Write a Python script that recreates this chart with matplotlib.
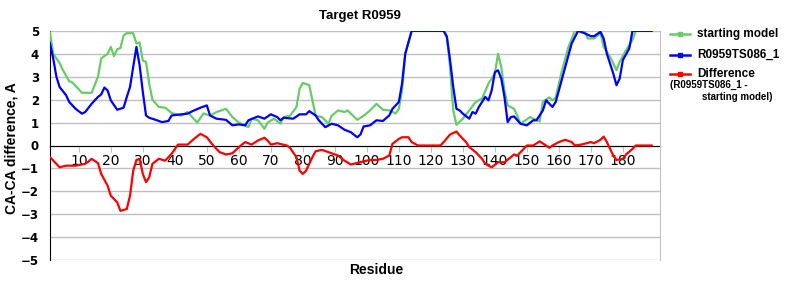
import matplotlib
matplotlib.use("Agg")
import matplotlib.pyplot as plt
from matplotlib.lines import Line2D

# residue / value pairs
green_res = [1, 2, 4, 5, 7, 8, 11, 14, 16, 17, 19, 20, 21, 22, 23, 24, 25, 27, 28, 29,
             30, 31, 32, 33, 35, 37, 39, 42, 44, 47, 49, 51, 53, 56, 58, 60, 63, 64, 66, 68,
             69, 71, 73, 74, 76, 78, 79, 80, 82, 83, 84, 86, 88, 89, 91, 93, 94, 97, 99, 101,
             103, 105, 107, 109, 110, 111, 112, 114, 124, 125, 126, 127, 128, 130, 132, 134, 136, 138, 140, 141,
             142, 143, 144, 146, 147, 148, 151, 152, 154, 155, 157, 158, 159, 161, 163, 165, 168, 169, 171, 173,
             174, 176, 178, 179, 181, 183, 184, 189]
green_val = [4.93, 4.0, 3.6, 3.3, 2.8, 2.75, 2.3, 2.3, 3.0, 3.8, 4.0, 4.3, 3.9, 4.2, 4.25, 4.8, 4.9, 4.9, 4.45, 4.5,
             3.7, 3.65, 2.7, 2.0, 1.68, 1.65, 1.42, 1.3, 1.46, 1.0, 1.4, 1.3, 1.46, 1.6, 1.24, 1.0, 0.8, 1.17, 1.1, 0.73,
             1.0, 1.17, 0.95, 1.24, 1.3, 1.68, 2.48, 2.73, 2.63, 1.97, 1.3, 1.24, 0.95, 1.3, 1.53, 1.46, 1.53, 1.12, 1.3, 1.53,
             1.82, 1.56, 1.53, 1.4, 1.6, 2.4, 4.0, 5.0, 5.0, 4.75, 3.4, 1.53, 0.9, 1.17, 1.53, 1.9, 2.05, 2.7, 3.14, 4.0,
             3.43, 2.4, 1.75, 1.6, 1.3, 0.95, 1.24, 1.17, 1.05, 1.9, 2.1, 1.97, 2.1, 3.28, 4.3, 5.0, 5.0, 4.67, 4.67, 4.9,
             4.3, 3.87, 3.28, 3.65, 4.16, 4.6, 5.0, 5.0]

blue_res = [1, 2, 3, 4, 6, 7, 9, 11, 12, 14, 16, 17, 18, 19, 20, 22, 24, 25, 26, 27,
            28, 29, 30, 31, 32, 34, 36, 38, 39, 42, 44, 46, 48, 50, 51, 53, 56, 58, 60, 62,
            63, 66, 68, 70, 72, 73, 74, 77, 79, 81, 82, 84, 85, 87, 89, 91, 93, 95, 97, 98,
            99, 101, 103, 105, 107, 108, 110, 111, 112, 114, 124, 125, 126, 127, 128, 129, 130, 132, 133, 134,
            135, 137, 138, 139, 140, 141, 142, 143, 144, 145, 146, 148, 150, 152, 153, 155, 156, 158, 159, 160,
            162, 164, 166, 168, 170, 171, 173, 174, 175, 177, 178, 179, 180, 182, 183, 189]
blue_val = [4.45, 3.8, 3.0, 2.55, 2.2, 1.9, 1.6, 1.39, 1.46, 1.82, 2.12, 2.23, 2.53, 2.4, 1.97, 1.56, 1.65, 2.12, 2.55, 3.43,
            4.3, 3.5, 2.34, 1.31, 1.21, 1.12, 1.02, 1.07, 1.31, 1.36, 1.39, 1.53, 1.65, 1.75, 1.31, 1.17, 1.12, 0.88, 0.92, 0.88,
            1.1, 1.27, 1.17, 1.36, 1.24, 1.1, 1.21, 1.17, 1.36, 1.36, 1.5, 1.31, 1.1, 0.8, 0.95, 0.88, 0.69, 0.58, 0.36, 0.48,
            0.83, 0.88, 1.1, 1.07, 1.31, 1.6, 1.9, 2.7, 4.0, 5.0, 5.0, 4.75, 3.73, 2.55, 1.6, 1.53, 1.39, 1.17, 1.46, 1.39,
            1.68, 2.12, 1.97, 2.4, 3.2, 3.28, 2.92, 2.12, 1.02, 1.24, 1.27, 0.95, 0.88, 1.1, 1.1, 1.53, 1.97, 1.68, 1.9, 2.4,
            3.43, 4.45, 5.0, 4.9, 4.77, 4.77, 4.96, 4.67, 4.0, 3.14, 2.63, 2.92, 3.73, 4.23, 5.0, 5.0]

diff_res = [1, 3, 4, 6, 9, 12, 13, 14, 16, 17, 19, 20, 22, 23, 25, 26, 27, 28, 29, 30,
            31, 32, 33, 35, 37, 39, 41, 44, 46, 48, 50, 52, 54, 56, 58, 60, 62, 64, 66, 68,
            69, 70, 72, 75, 76, 78, 79, 80, 81, 83, 84, 86, 88, 91, 93, 95, 97, 99, 101, 103,
            105, 107, 108, 110, 111, 113, 114, 116, 123, 124, 126, 128, 129, 131, 132, 134, 136, 137, 139, 141,
            143, 145, 146, 147, 149, 150, 152, 154, 156, 157, 158, 160, 162, 164, 165, 167, 170, 171, 173, 174,
            175, 177, 178, 180, 181, 183, 184, 189]
diff_val = [-0.51, -0.8, -0.95, -0.88, -0.88, -0.8, -0.7, -0.58, -0.77, -1.24, -1.75, -2.19, -2.48, -2.85, -2.77, -2.19, -1.1, -0.63, -0.58, -1.24,
            -1.6, -1.39, -0.8, -0.58, -0.66, -0.36, 0.04, 0.04, 0.29, 0.51, 0.36, 0.0, -0.29, -0.39, -0.34, -0.07, 0.15, 0.04, 0.22, 0.34,
            0.22, 0.04, 0.1, 0.0, -0.1, -0.51, -1.1, -1.24, -1.1, -0.51, -0.25, -0.19, -0.29, -0.44, -0.66, -0.83, -0.76, -0.69, -0.63, -0.63,
            -0.58, -0.44, 0.07, 0.29, 0.36, 0.36, 0.15, 0.0, 0.0, 0.15, 0.48, 0.61, 0.44, 0.15, -0.07, -0.29, -0.58, -0.8, -0.95, -0.73,
            -0.73, -0.51, -0.39, -0.44, -0.15, 0.0, 0.0, 0.18, 0.0, -0.1, 0.0, 0.15, 0.25, 0.15, 0.0, 0.04, 0.15, 0.1, 0.25, 0.39,
            0.15, -0.44, -0.63, -0.58, -0.39, -0.15, 0.0, 0.0]

x_ticks = list(range(10, 190, 10))
y_ticks = list(range(-5, 6))

GREEN = "#66CC66"
BLUE = "#0000FF"
RED = "#FF0000"
GRID = "#C0C0C0"
LAB = "Liberation Sans"

fig = plt.figure(figsize=(8, 3), dpi=100)
ax = fig.add_axes([0.0625, 0.133, 0.7625, 0.764])

ax.plot(green_res, green_val, color=GREEN, lw=1.6, zorder=3)
ax.plot(blue_res, blue_val, color=BLUE, lw=1.6, zorder=4)
ax.plot(diff_res, diff_val, color=RED, lw=1.6, zorder=4)

ax.set_xlim(1, 191.6)
ax.set_ylim(-5, 5)
ax.set_yticks(y_ticks)
ax.set_yticklabels([str(v).replace("-", "\u2212") for v in y_ticks],
                   fontsize=8.5, fontweight="bold", family="DejaVu Sans")
ax.set_xticks(x_ticks)
ax.set_xticklabels([str(v) for v in x_ticks], fontsize=8.5, fontweight="bold",
                   family="DejaVu Sans")
ax.yaxis.grid(True, color=GRID, lw=1)
ax.set_axisbelow(True)

ax.spines["bottom"].set_position(("data", 0))
ax.spines["bottom"].set_color("black")
ax.spines["bottom"].set_zorder(2)
ax.spines["left"].set_color("black")
ax.spines["right"].set_color(GRID)
ax.spines["top"].set_visible(False)
ax.tick_params(axis="x", length=4, color=GRID, pad=2)
ax.tick_params(axis="y", length=0, pad=8)

fig.text(0.45, 0.948, "Target R0959", ha="center", va="center",
         fontsize=9.5, fontweight="bold", family=LAB)
fig.text(0.47, 0.1, "Residue", ha="center", va="center",
         fontsize=10, fontweight="bold", family=LAB)
fig.text(0.015, 0.505, "CA-CA difference, A", ha="center", va="center",
         rotation=90, fontsize=10, fontweight="bold", family=LAB)

# legend drawn by hand to keep Excel-like placement
legend_rows = [("starting model", GREEN, 34), ("R0959TS086_1", BLUE, 55),
               ("Difference", RED, 74)]
for label, col, ypx in legend_rows:
    yf = 1 - ypx / 300
    fig.add_artist(Line2D([670 / 800, 690 / 800], [yf, yf], color=col, lw=1.8))
    fig.add_artist(Line2D([680 / 800], [yf], color=col, marker="s", ms=2.5))
    fig.text(697 / 800, yf, label, ha="left", va="center",
             fontsize=8.5, fontweight="bold", family=LAB)
fig.text(670 / 800, 1 - 85 / 300, "(R0959TS086_1 -", ha="left", va="center",
         fontsize=7, fontweight="bold", family=LAB)
fig.text(702 / 800, 1 - 97 / 300, "starting model)", ha="left", va="center",
         fontsize=7, fontweight="bold", family=LAB)

fig.savefig("out.png", dpi=100)
